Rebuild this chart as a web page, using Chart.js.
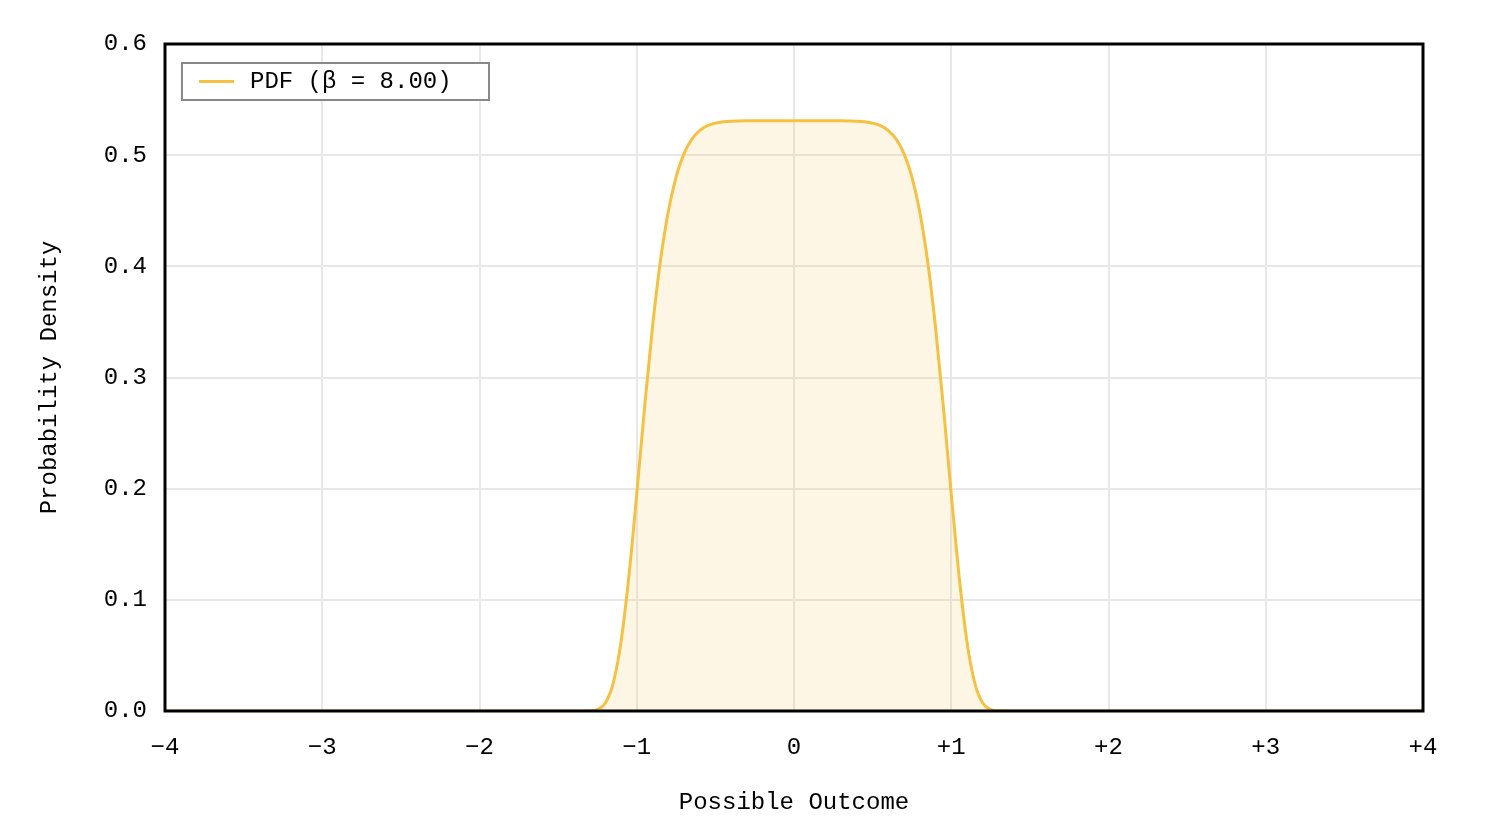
<!DOCTYPE html>
<html>
<head>
<meta charset="utf-8">
<script src="https://cdn.jsdelivr.net/npm/chart.js@4"></script>
<style>
html,body{margin:0;padding:0;background:#fff;}
#wrap{width:1492px;height:840px;position:relative;}
</style>
</head>
<body>
<div id="wrap"><canvas id="c" width="1492" height="840"></canvas></div>
<script>
const seriesLabel = 'PDF (\u03B2 = 8.00)';
const xTitle = 'Possible Outcome';
const yTitle = 'Probability Density';
const xTickValues = [-4, -3, -2, -1, 0, 1, 2, 3, 4];
const yTickValues = [0.0, 0.1, 0.2, 0.3, 0.4, 0.5, 0.6];

const xs = [-4, -3, -2, -1.4, -1.35, -1.3, -1.25, -1.2, -1.15, -1.1, -1.05, -1.0,
  -0.95, -0.9, -0.85, -0.8, -0.75, -0.7, -0.65, -0.6, -0.55, -0.5, -0.45, -0.4,
  -0.35, -0.3, -0.25, -0.2, -0.15, -0.1, -0.05, 0,
  0.05, 0.1, 0.15, 0.2, 0.25, 0.3, 0.35, 0.4, 0.45, 0.5, 0.55, 0.6, 0.65, 0.7,
  0.75, 0.8, 0.85, 0.9, 0.95, 1.0, 1.05, 1.1, 1.15, 1.2, 1.25, 1.3, 1.35, 1.4, 2, 3, 4];
const ys = [0, 0, 0, 0, 0.00001, 0.00015, 0.00137, 0.0072, 0.0249, 0.0622, 0.1212, 0.1953,
  0.2735, 0.3452, 0.4043, 0.4489, 0.4803, 0.5012, 0.5143, 0.5221, 0.5265, 0.5288, 0.5300, 0.5306,
  0.5308, 0.5309, 0.5309, 0.5309, 0.5309, 0.5309, 0.5309, 0.5309,
  0.5309, 0.5309, 0.5309, 0.5309, 0.5309, 0.5309, 0.5308, 0.5306, 0.5300, 0.5288, 0.5265, 0.5221, 0.5143, 0.5012,
  0.4803, 0.4489, 0.4043, 0.3452, 0.2735, 0.1953, 0.1212, 0.0622, 0.0249, 0.0072, 0.00137, 0.00015, 0.00001, 0, 0, 0, 0];

const FONT = '"Courier New", "Liberation Mono", monospace';
const lineColor = 'rgb(245,193,66)';

const frameAndLegend = {
  id: 'frameAndLegend',
  afterDraw(chart) {
    const ctx = chart.ctx;
    const a = chart.chartArea;
    ctx.save();
    ctx.strokeStyle = '#000';
    ctx.lineWidth = 3;
    ctx.strokeRect(a.left, a.top, a.right - a.left, a.bottom - a.top);
    // legend
    const bx = a.left + 17, by = a.top + 19, bw = 307, bh = 37;
    ctx.fillStyle = '#fff';
    ctx.fillRect(bx, by, bw, bh);
    ctx.strokeStyle = '#888';
    ctx.lineWidth = 2;
    ctx.strokeRect(bx, by, bw, bh);
    ctx.strokeStyle = lineColor;
    ctx.lineWidth = 3;
    ctx.beginPath();
    ctx.moveTo(bx + 17, by + 18.5);
    ctx.lineTo(bx + 52, by + 18.5);
    ctx.stroke();
    ctx.fillStyle = '#000';
    ctx.font = '24px ' + FONT;
    ctx.textBaseline = 'middle';
    ctx.textAlign = 'left';
    ctx.fillText(chart.data.datasets[0].label, bx + 68, by + 19);
    ctx.restore();
  }
};

new Chart(document.getElementById('c'), {
  type: 'line',
  data: {
    datasets: [{
      label: seriesLabel,
      data: xs.map((x, i) => ({x: x, y: ys[i]})),
      borderColor: lineColor,
      backgroundColor: 'rgba(245,193,66,0.14)',
      borderWidth: 3,
      fill: 'origin',
      pointRadius: 0,
      cubicInterpolationMode: 'monotone'
    }]
  },
  options: {
    responsive: false,
    animation: false,
    layout: {padding: {top: 44, right: 69, left: 0, bottom: 0}},
    plugins: {legend: {display: false}, tooltip: {enabled: false}},
    scales: {
      x: {
        type: 'linear',
        min: -4, max: 4,
        afterBuildTicks: s => { s.ticks = xTickValues.map(v => ({value: v})); },
        afterFit: s => { s.height = 129; },
        grid: {color: '#e8e8e8', lineWidth: 2, drawTicks: false},
        border: {display: false},
        ticks: {
          padding: 22, maxRotation: 0, autoSkip: false,
          color: '#000', font: {family: FONT, size: 24},
          callback: v => v > 0 ? '+' + v : (v < 0 ? '\u2212' + Math.abs(v) : '0')
        },
        title: {display: true, text: xTitle, color: '#000', font: {family: FONT, size: 24}, padding: {top: 0, bottom: 23}}
      },
      y: {
        min: 0, max: 0.6,
        afterBuildTicks: s => { s.ticks = yTickValues.map(v => ({value: v})); },
        afterFit: s => { s.width = 165; },
        grid: {color: '#e8e8e8', lineWidth: 2, drawTicks: false},
        border: {display: false},
        ticks: {
          padding: 18, autoSkip: false,
          color: '#000', font: {family: FONT, size: 24},
          callback: v => Number(v).toFixed(1)
        },
        title: {display: true, text: yTitle, color: '#000', font: {family: FONT, size: 24}, padding: {top: 35, bottom: 0}}
      }
    }
  },
  plugins: [frameAndLegend]
});
</script>
</body>
</html>
